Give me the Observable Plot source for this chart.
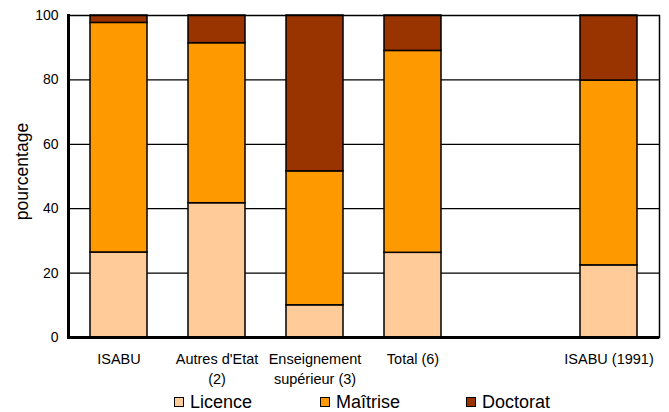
<!DOCTYPE html>
<html>
<head>
<meta charset="utf-8">
<script src="https://cdn.jsdelivr.net/npm/d3@7"></script>
<script src="https://cdn.jsdelivr.net/npm/@observablehq/plot@0.6"></script>
<style>
  body { margin: 0; background: #fff; font-family: "Liberation Sans", Arial, sans-serif; }
  #legend { position: relative; height: 22px; font-size: 18px; color: #000; }
  .item { position: absolute; top: 0; display: flex; align-items: center; height: 22px; }
  .sw { width: 8px; height: 8px; border: 1.5px solid #000; margin-right: 6px; }
</style>
</head>
<body>
<div id="chart"></div>
<div id="legend"></div>
<script>
const categories = ["ISABU", "Autres d'Etat\n(2)", "Enseignement\nsupérieur (3)", "Total (6)", " ", "ISABU (1991)"];
const series = ["Licence", "Maîtrise", "Doctorat"];
const colors = ["#FFCC99", "#FF9900", "#993300"];
const licence  = [26.4, 41.7, 10.0, 26.3, null, 22.4];
const maitrise = [71.3, 49.7, 41.6, 62.7, null, 57.4];
const doctorat = [2.3, 8.6, 48.4, 11.0, null, 20.2];
const yTicks = [0, 20, 40, 60, 80, 100];

const valuesBySeries = [licence, maitrise, doctorat];
const data = [];
categories.forEach((c, i) => {
  series.forEach((s, j) => {
    const v = valuesBySeries[j][i];
    if (v != null) data.push({cat: c, series: s, value: v});
  });
});

const plot = Plot.plot({
  width: 669,
  height: 391,
  marginLeft: 68,
  marginRight: 10,
  marginTop: 15,
  marginBottom: 54,
  style: {fontFamily: "'Liberation Sans', Arial, sans-serif", color: "#000", background: "#fff"},
  x: {domain: categories, paddingInner: 0.42, paddingOuter: 0.21, label: null},
  y: {domain: [0, 100], label: null},
  color: {domain: series, range: colors},
  marks: [
    Plot.ruleY([20, 40, 60, 80], {stroke: "#000", strokeWidth: 1.2}),
    Plot.barY(data, {x: "cat", y: "value", fill: "series", stroke: "#000", strokeWidth: 1.5, order: series}),
    Plot.frame({stroke: "#000", strokeWidth: 1.5}),
    Plot.frame({anchor: "left", stroke: "#000", strokeWidth: 3}),
    Plot.ruleY([0], {stroke: "#000", strokeWidth: 3}),
    Plot.axisX({tickSize: 0, tickPadding: 12, fontSize: 14.5, lineHeight: 1.4, label: null}),
    Plot.axisY({ticks: yTicks, tickSize: 0, tickPadding: 10, fontSize: 14, label: null}),
    Plot.text(["pourcentage"], {frameAnchor: "left", textAnchor: "middle", rotate: -90, dx: -46, dy: -5, fontSize: 17.5})
  ]
});
document.getElementById("chart").append(plot);

const legend = document.getElementById("legend");
series.forEach((s, j) => {
  const it = document.createElement("div");
  it.className = "item";
  it.style.left = (174 + j * 146) + "px";
  const sw = document.createElement("div");
  sw.className = "sw";
  sw.style.background = colors[j];
  it.append(sw, document.createTextNode(s));
  legend.append(it);
});
</script>
</body>
</html>
